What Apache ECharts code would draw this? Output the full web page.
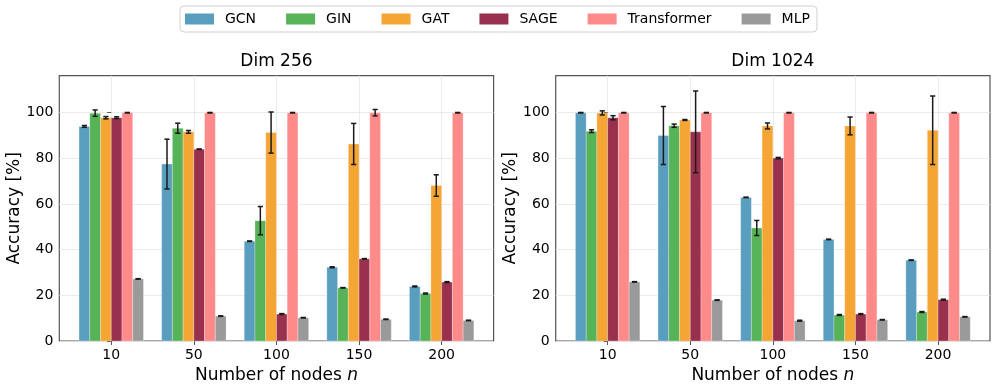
<!doctype html>
<html>
<head>
<meta charset="UTF-8">
<title>Accuracy vs nodes</title>
<script src="https://cdn.jsdelivr.net/npm/echarts@6/dist/echarts.min.js"></script>
<style>
  html, body { margin: 0; padding: 0; background: #fff; }
  #main { width: 997px; height: 389px; }
</style>
</head>
<body>
<div id="main"></div>
<script>
// x categories and models
var nodes = ['10', '50', '100', '150', '200'];
var models = ['GCN', 'GIN', 'GAT', 'SAGE', 'Transformer', 'MLP'];
var colors = ['#5a9ebf', '#57b357', '#f5a534', '#99304d', '#ff8a8a', '#9a9a9a'];
var yTicks = [0, 20, 40, 60, 80, 100];

// Dim 256 : mean accuracy and std per model
var gcn256 = [94.0, 77.5, 43.7, 32.3, 23.9];
var gin256 = [99.8, 93.2, 52.7, 23.3, 20.8];
var gat256 = [97.8, 91.6, 91.3, 86.3, 68.1];
var sage256 = [97.8, 84.0, 11.8, 36.0, 25.8];
var trans256 = [100, 100, 100, 100, 100];
var mlp256 = [27.2, 10.9, 10.2, 9.5, 9.0];
var gcn256Err = [0.4, 10.9, 0.1, 0.2, 0.2];
var gin256Err = [1.4, 2.2, 6.2, 0.1, 0.2];
var gat256Err = [0.5, 0.6, 9.0, 9.0, 4.7];
var sage256Err = [0.4, 0.1, 0.2, 0.1, 0.2];
var trans256Err = [0.1, 0.1, 0.1, 1.4, 0.1];
var mlp256Err = [0.1, 0.1, 0.1, 0.1, 0.1];

// Dim 1024
var gcn1024 = [100, 90.0, 62.9, 44.5, 35.4];
var gin1024 = [91.9, 94.3, 49.5, 11.4, 12.7];
var gat1024 = [99.9, 96.8, 94.2, 94.2, 92.3];
var sage1024 = [97.8, 91.6, 80.1, 11.8, 18.1];
var trans1024 = [100, 100, 100, 100, 100];
var mlp1024 = [25.9, 17.9, 8.9, 9.3, 10.6];
var gcn1024Err = [0.1, 12.7, 0.1, 0.1, 0.1];
var gin1024Err = [0.6, 0.7, 3.3, 0.2, 0.2];
var gat1024Err = [0.9, 0.2, 1.3, 3.9, 15.0];
var sage1024Err = [0.9, 17.9, 0.3, 0.2, 0.2];
var trans1024Err = [0.1, 0.1, 0.1, 0.1, 0.1];
var mlp1024Err = [0.1, 0.1, 0.2, 0.1, 0.1];

var panels = [
    { title: 'Dim 256', means: [gcn256, gin256, gat256, sage256, trans256, mlp256],
      errs: [gcn256Err, gin256Err, gat256Err, sage256Err, trans256Err, mlp256Err] },
    { title: 'Dim 1024', means: [gcn1024, gin1024, gat1024, sage1024, trans1024, mlp1024],
      errs: [gcn1024Err, gin1024Err, gat1024Err, sage1024Err, trans1024Err, mlp1024Err] }
];

var BW = 0.13;        // bar width in category units
var FONT = 'DejaVu Sans';
var gridLeft = [59.3, 555.7];
var gridW = 434.3;

function barRender(j) {
    return function (params, api) {
        var i = api.value(0), v = api.value(1);
        var x0 = i + (j - 3) * BW;
        var p0 = api.coord([x0, v]);
        var p1 = api.coord([x0 + BW, 0]);
        return {
            type: 'rect',
            shape: { x: p0[0], y: p0[1], width: p1[0] - p0[0], height: p1[1] - p0[1] },
            style: { fill: colors[j], stroke: 'rgba(255,255,255,0.35)', lineWidth: 0.8 }
        };
    };
}

function errRender(params, api) {
    var i = api.value(0), v = api.value(1), e = api.value(2), j = api.value(3);
    var xc = i + (j - 2.5) * BW;
    var top = api.coord([xc, v + e]);
    var bot = api.coord([xc, v - e]);
    var cap = 2.6;
    var st = { stroke: '#1a1a1a', lineWidth: 1.5 };
    return {
        type: 'group',
        children: [
            { type: 'line', shape: { x1: top[0], y1: top[1], x2: bot[0], y2: bot[1] }, style: st },
            { type: 'line', shape: { x1: top[0] - cap, y1: top[1], x2: top[0] + cap, y2: top[1] }, style: st },
            { type: 'line', shape: { x1: bot[0] - cap, y1: bot[1], x2: bot[0] + cap, y2: bot[1] }, style: st }
        ]
    };
}

var grids = [], xAxes = [], yAxes = [], titles = [], series = [];
panels.forEach(function (p, g) {
    grids.push({
        left: gridLeft[g], top: 75.7, width: gridW, height: 266,
        show: true, borderColor: '#555', borderWidth: 1.2, backgroundColor: 'transparent'
    });
    titles.push({
        text: p.title, left: gridLeft[g] + gridW / 2, top: 53, textAlign: 'center', padding: 0,
        textStyle: { fontFamily: FONT, fontSize: 17, fontWeight: 'normal', color: '#000' }
    });
    xAxes.push({
        type: 'value', gridIndex: g, min: -0.629, max: 4.629,
        axisLine: { show: false },
        axisTick: { show: true, length: 4, customValues: [0, 1, 2, 3, 4], lineStyle: { color: '#555' } },
        axisLabel: {
            customValues: [0, 1, 2, 3, 4], margin: 7,
            fontFamily: FONT, fontSize: 14, color: '#000',
            formatter: function (v) { return nodes[Math.round(v)]; }
        },
        splitLine: { show: true, lineStyle: { color: '#e6e6e6', width: 0.8 } },
        name: '{a|Number of nodes }{b|n}', nameLocation: 'middle', nameGap: 26,
        nameTextStyle: {
            rich: {
                a: { fontFamily: FONT, fontSize: 17, color: '#000' },
                b: { fontFamily: FONT, fontSize: 17, color: '#000', fontStyle: 'italic' }
            }
        }
    });
    yAxes.push({
        type: 'value', gridIndex: g, min: 0, max: 116.2,
        axisLine: { show: false },
        axisTick: { show: true, length: 4, customValues: yTicks, lineStyle: { color: '#555' } },
        axisLabel: { customValues: yTicks, margin: 6, fontFamily: FONT, fontSize: 14, color: '#000' },
        splitLine: { show: true, lineStyle: { color: '#e6e6e6', width: 0.8 } },
        name: 'Accuracy [%]', nameLocation: 'middle', nameRotate: 90, nameGap: 31,
        nameTextStyle: { fontFamily: FONT, fontSize: 17, color: '#000' }
    });
    models.forEach(function (m, j) {
        series.push({
            name: m, type: 'custom', xAxisIndex: g, yAxisIndex: g,
            itemStyle: { color: colors[j] },
            renderItem: barRender(j),
            data: p.means[j].map(function (v, i) { return [i, v]; }),
            z: 2
        });
    });
    var errData = [];
    models.forEach(function (m, j) {
        p.means[j].forEach(function (v, i) { errData.push([i, v, p.errs[j][i], j]); });
    });
    series.push({
        type: 'custom', xAxisIndex: g, yAxisIndex: g, renderItem: errRender,
        data: errData, z: 5, silent: true
    });
});

var chart = echarts.init(document.getElementById('main'));
chart.setOption({
    animation: false,
    title: titles,
    legend: {
        data: models, left: 180, top: 6, width: 660,
        padding: [6, 7, 6, 5], itemGap: 30, itemWidth: 29, itemHeight: 11,
        icon: 'rect', borderColor: '#d0d0d0', borderWidth: 1, borderRadius: 4,
        textStyle: { fontFamily: FONT, fontSize: 14, color: '#000', padding: [0, 0, 0, 6] }
    },
    grid: grids,
    xAxis: xAxes,
    yAxis: yAxes,
    series: series
});
</script>
</body>
</html>
